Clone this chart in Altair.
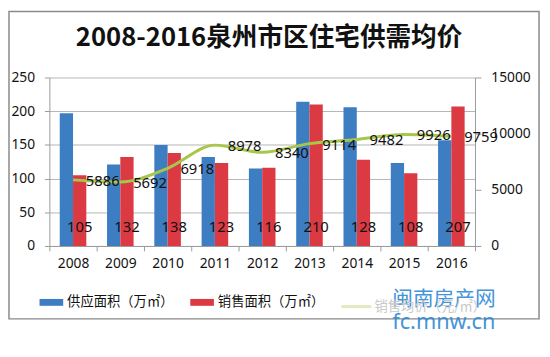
import altair as alt
import pandas as pd

years = ["2008", "2009", "2010", "2011", "2012", "2013", "2014", "2015", "2016"]
supply = [197, 121, 150, 132, 115, 214, 206, 123, 157]
sales = [105, 132, 138, 123, 116, 210, 128, 108, 207]
price = [5886, 5692, 6918, 8978, 8340, 9114, 9482, 9926, 9759]

S1 = "供应面积（万㎡）"
S2 = "销售面积（万㎡）"
S3 = "销售均价（元/㎡）"
title_text = "2008-2016泉州市区住宅供需均价"

bars_df = pd.DataFrame(
    [{"year": y, "series": S1, "value": v} for y, v in zip(years, supply)]
    + [{"year": y, "series": S2, "value": v} for y, v in zip(years, sales)]
)
sales_df = pd.DataFrame({"year": years, "series": S2, "value": sales})
price_df = pd.DataFrame({"year": years, "price": price, "name": S3})

FONT = "Noto Sans"
CJK = "Noto Sans CJK SC"
BLUE = "#3D7DC2"
RED = "#DC3A43"
GREEN = "#A8C64A"

x_enc = alt.X(
    "year:N",
    sort=years,
    scale=alt.Scale(paddingInner=0, paddingOuter=0),
    axis=alt.Axis(
        title=None, labelAngle=0, tickBand="extent", tickSize=5, labelPadding=6,
        labelFont=FONT, labelFontSize=14, labelColor="#111", domainColor="#9A9A9A",
        tickColor="#9A9A9A", grid=False,
    ),
)

xoff = alt.XOffset("series:N", sort=[S1, S2], scale=alt.Scale(paddingOuter=0.78, paddingInner=0))

y_price = alt.Y(
    "price:Q",
    scale=alt.Scale(domain=[0, 15000]),
    axis=alt.Axis(
        title=None, orient="right", values=[0, 5000, 10000, 15000], format="d", tickSize=6,
        labelPadding=10, labelFont=FONT, labelFontSize=14, labelColor="#111",
        domainColor="#9A9A9A", tickColor="#9A9A9A", grid=False,
    ),
)

frame = alt.Chart(pd.DataFrame({"a": [0]})).mark_rect(
    fill=None, stroke="#8A8A8A", strokeWidth=1.5
).encode(
    x=alt.value(-41), x2=alt.value(497), y=alt.value(-67), y2=alt.value(245)
)

title = alt.Chart(pd.DataFrame({"t": [title_text]})).mark_text(
    font=CJK, fontSize=26, fontWeight="bold", color="#111", align="center", baseline="middle"
).encode(x=alt.value(223), y=alt.value(-40), text="t:N")

bars = alt.Chart(bars_df).mark_bar().encode(
    x=x_enc,
    xOffset=xoff,
    y=alt.Y(
        "value:Q",
        scale=alt.Scale(domain=[0, 250]),
        axis=alt.Axis(
            title=None, values=[0, 50, 100, 150, 200, 250], tickSize=5, labelPadding=10,
            labelFont=FONT, labelFontSize=14, labelColor="#111", domainColor="#9A9A9A",
            tickColor="#9A9A9A", gridColor="#B5B5B5", grid=True,
        ),
    ),
    color=alt.Color(
        "series:N",
        sort=[S1, S2],
        scale=alt.Scale(domain=[S1, S2], range=[BLUE, RED]),
        legend=alt.Legend(
            title=None, orient="none", legendX=-10, legendY=216, direction="horizontal",
            symbolType="M-1,-0.29H1V0.29H-1Z", symbolSize=576, symbolStrokeWidth=0,
            labelFont=CJK, labelFontSize=13.5, labelColor="#111", labelOffset=4,
            columnPadding=17,
        ),
    ),
)

bar_labels = alt.Chart(sales_df).mark_text(
    font=FONT, fontSize=15, color="#111", baseline="middle"
).encode(
    x=alt.X("year:N", sort=years),
    xOffset=xoff,
    y=alt.value(152),
    text=alt.Text("value:Q"),
)

line = alt.Chart(price_df).mark_line(interpolate="monotone", strokeWidth=3).encode(
    x=alt.X("year:N", sort=years),
    y=y_price,
    stroke=alt.Stroke(
        "name:N",
        scale=alt.Scale(range=[GREEN]),
        legend=alt.Legend(
            title=None, orient="none", legendX=295, legendY=216, symbolType="stroke",
            symbolSize=900, symbolStrokeWidth=3, symbolOpacity=0.35,
            labelFont=CJK, labelFontSize=13.5, labelColor="#C8C8C8", labelOffset=2,
        ),
    ),
)

price_labels = alt.Chart(price_df).mark_text(
    font=FONT, fontSize=15, color="#111", align="left", baseline="middle", dx=13, dy=1
).encode(
    x=alt.X("year:N", sort=years),
    y=y_price,
    text=alt.Text("price:Q", format="d"),
)

wm1 = alt.Chart(pd.DataFrame({"t": ["闽南房产网"]})).mark_text(
    font=CJK, fontSize=21, color="#2F8AD6", align="left", baseline="middle", opacity=0.9
).encode(x=alt.value(348), y=alt.value(226), text="t:N")

wm2 = alt.Chart(pd.DataFrame({"t": ["fc.mnw.cn"]})).mark_text(
    font=FONT, fontSize=22, color="#2F8AD6", align="left", baseline="middle", opacity=0.9
).encode(x=alt.value(348), y=alt.value(248), text="t:N")

left = alt.layer(bars, bar_labels)
right = alt.layer(line, price_labels)

chart = alt.layer(frame, title, left, right, wm1, wm2).resolve_scale(
    y="independent", color="independent", stroke="independent"
).properties(
    width=432,
    height=171,
    autosize=alt.AutoSizeParams(type="none"),
    padding={"left": 42, "top": 68, "right": 68, "bottom": 100},
).configure_view(stroke=None)

chart.save("out.html", embed_options={"renderer": "svg", "actions": False})
